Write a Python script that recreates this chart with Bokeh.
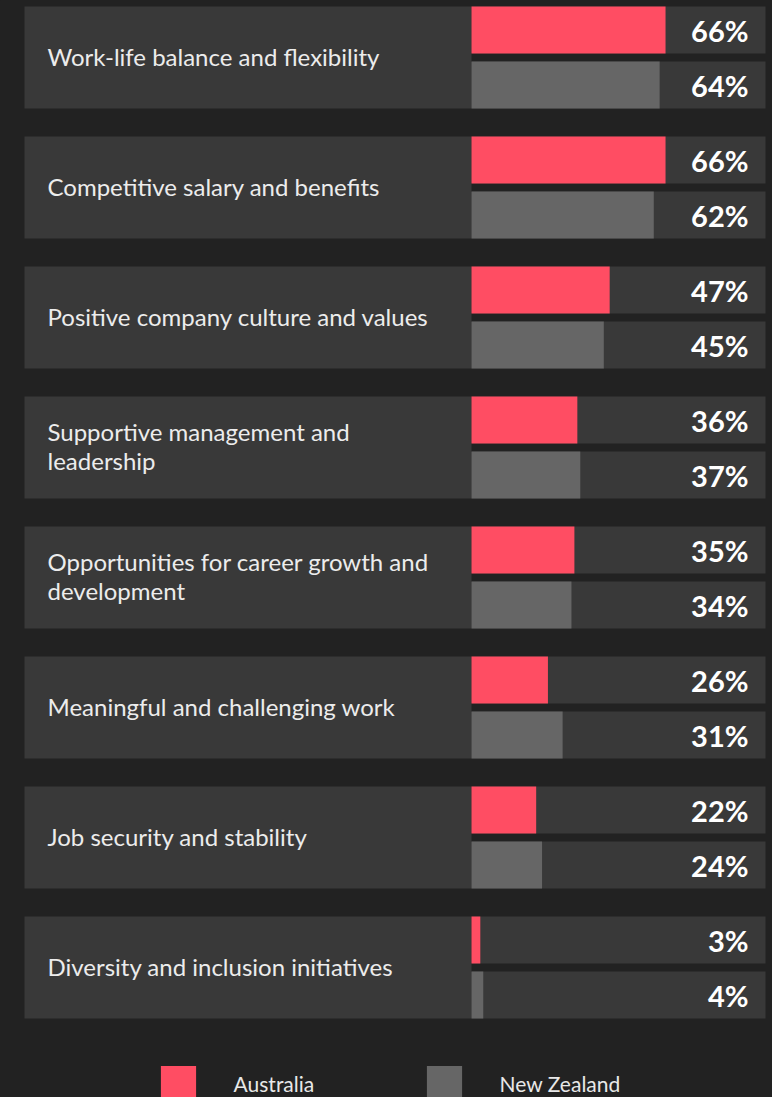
from bokeh.plotting import figure
from bokeh.models import Range1d, Legend, LegendItem, ColumnDataSource
from bokeh.core.properties import value
from bokeh.embed import file_html
from bokeh.resources import INLINE

# ---- data ----
categories = [
    "Work-life balance and flexibility",
    "Competitive salary and benefits",
    "Positive company culture and values",
    "Supportive management and\nleadership",
    "Opportunities for career growth and\ndevelopment",
    "Meaningful and challenging work",
    "Job security and stability",
    "Diversity and inclusion initiatives",
]
australia = [66, 66, 47, 36, 35, 26, 22, 3]
new_zealand = [64, 62, 45, 37, 34, 31, 24, 4]
series_names = ["Australia", "New Zealand"]

# ---- layout constants (page pixels) ----
W, H = 772, 1097
PX_PER = 294 / 100.0       # pixels per percent point on the track
X0_PAGE = 471              # page x of the 0% line
GROUP_STEP = 130           # pixels per category group
Y0_PAGE = 57               # page y of first group center

def px_to_x(p):
    return (p - X0_PAGE) / PX_PER

BG = "#222222"
PANEL = "#393939"
RED = "#FF4D63"
GREY = "#666666"

p = figure(width=W, height=H, output_backend="svg", toolbar_location=None,
           x_range=Range1d(px_to_x(0), px_to_x(W)),
           y_range=Range1d((H - Y0_PAGE) / GROUP_STEP, (0 - Y0_PAGE) / GROUP_STEP),
           min_border=0, background_fill_color=BG, border_fill_color=BG,
           outline_line_color=None)
p.axis.visible = False
p.grid.visible = False

n = len(categories)
idx = list(range(n))
bar_off = 27.5 / GROUP_STEP
bar_h = 47 / GROUP_STEP
panel_h = 102 / GROUP_STEP
txt_shift = 1.5 / GROUP_STEP
y_aus = [i - bar_off for i in idx]
y_nz = [i + bar_off for i in idx]

# label panels
p.hbar(y=idx, left=px_to_x(24), right=0, height=panel_h, fill_color=PANEL, line_color=None)
# tracks
p.hbar(y=y_aus, left=0, right=px_to_x(765), height=bar_h, fill_color=PANEL, line_color=None)
p.hbar(y=y_nz, left=0, right=px_to_x(765), height=bar_h, fill_color=PANEL, line_color=None)

src = ColumnDataSource(dict(
    y_aus=y_aus, y_nz=y_nz, aus=australia, nz=new_zealand,
    aus_lbl=[f"{v}%" for v in australia], nz_lbl=[f"{v}%" for v in new_zealand],
    cat=categories, yc=[i - txt_shift for i in idx],
))

r_aus = p.hbar(y="y_aus", left=0, right="aus", height=bar_h, source=src,
               fill_color=RED, line_color=None)
r_nz = p.hbar(y="y_nz", left=0, right="nz", height=bar_h, source=src,
              fill_color=GREY, line_color=None)

# category labels
p.text(x=px_to_x(47), y="yc", text="cat", source=src,
       text_font=value("Lato"), text_font_size="24px", text_color="#ececec",
       text_align="left", text_baseline="middle", text_line_height=1.0)

# value labels
for ycol, tcol in (("y_aus", "aus_lbl"), ("y_nz", "nz_lbl")):
    p.text(x=px_to_x(748), y=ycol, text=tcol, source=src,
           text_font=value("Lato"), text_font_size="29px", text_font_style="bold",
           text_color="#ffffff", text_align="right", text_baseline="middle")

legend = Legend(items=[LegendItem(label=series_names[0], renderers=[r_aus]),
                       LegendItem(label=series_names[1], renderers=[r_nz])],
                orientation="horizontal", location=(155.6, -8.4),
                glyph_width=44, glyph_height=44, label_standoff=34,
                label_width=84, spacing=104, padding=0, margin=0,
                background_fill_alpha=0, border_line_alpha=0,
                label_text_font="Lato", label_text_font_size="21px",
                label_text_color="#e8e8e8")
p.add_layout(legend)

html = file_html(p, INLINE, title="chart")
html = html.replace("</head>", "<style>html,body{background:#222222;}</style></head>", 1)
open("out.html", "w").write(html)
